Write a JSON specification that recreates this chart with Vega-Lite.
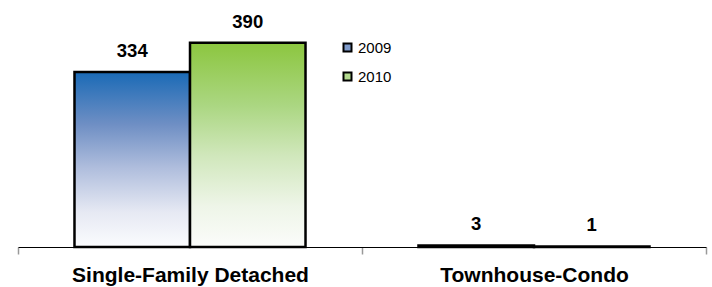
{
  "$schema": "https://vega.github.io/schema/vega-lite/v6.json",
  "width": 688,
  "height": 231,
  "autosize": {"type": "none"},
  "padding": {"left": 18, "top": 16, "right": 6, "bottom": 40},
  "background": "white",
  "config": {"view": {"stroke": null}, "font": "Liberation Sans"},
  "data": {
    "values": [
      {"type": "Single-Family Detached", "year": "2009", "value": 334},
      {"type": "Single-Family Detached", "year": "2010", "value": 390},
      {"type": "Townhouse-Condo", "year": "2009", "value": 3},
      {"type": "Townhouse-Condo", "year": "2010", "value": 1}
    ]
  },
  "encoding": {
    "x": {
      "field": "type", "type": "nominal", "sort": null,
      "scale": {"paddingInner": 0, "paddingOuter": 0},
      "axis": {
        "title": null, "labelAngle": 0, "labelFont": "Liberation Sans", "labelFontSize": 21,
        "labelFontWeight": "bold", "labelColor": "black", "labelLimit": 0, "domainColor": "black", "domainWidth": 1,
        "tickColor": "#999999", "tickSize": 7, "tickWidth": 1.5, "tickBand": "extent",
        "labelBaseline": "alphabetic", "labelPadding": 27
      }
    },
    "xOffset": {"field": "year", "type": "nominal", "scale": {"domain": ["2009", "2010"], "paddingInner": 0, "paddingOuter": 0.489}},
    "y": {"field": "value", "type": "quantitative", "scale": {"domain": [0, 441]}, "axis": null},
    "color": {
      "field": "year", "type": "nominal",
      "scale": {"domain": ["2009", "2010"], "range": ["#7f9bcb", "#b3da8e"]},
      "legend": {
        "title": null, "orient": "none", "legendX": 322, "legendY": 24,
        "symbolType": "square", "symbolSize": 64, "symbolStrokeColor": "black",
        "symbolStrokeWidth": 2, "symbolOpacity": 1, "labelFontSize": 15, "labelFont": "Liberation Sans",
        "labelColor": "black", "labelOffset": 3, "rowPadding": 12
      }
    }
  },
  "layer": [
    {
      "transform": [{"filter": "datum.year == '2009'"}],
      "mark": {"type": "bar", "stroke": "black", "strokeWidth": 2.5, "opacity": 1,
        "fill": {"gradient": "linear", "x1": 0, "y1": 0, "x2": 0, "y2": 1, "stops": [
          {"offset": 0, "color": "#1a6ab6"}, {"offset": 0.3, "color": "#6f8fc4"},
          {"offset": 0.55, "color": "#b0bedd"}, {"offset": 0.8, "color": "#e6e9f3"},
          {"offset": 1, "color": "#fbfcfe"}]}}
    },
    {
      "transform": [{"filter": "datum.year == '2010'"}],
      "mark": {"type": "bar", "stroke": "black", "strokeWidth": 2.5, "opacity": 1,
        "fill": {"gradient": "linear", "x1": 0, "y1": 0, "x2": 0, "y2": 1, "stops": [
          {"offset": 0, "color": "#8cc63f"}, {"offset": 0.3, "color": "#aad680"},
          {"offset": 0.55, "color": "#d0e7bb"}, {"offset": 0.8, "color": "#eef5e8"},
          {"offset": 1, "color": "#fbfcfa"}]}}
    },
    {
      "mark": {"type": "text", "baseline": "alphabetic", "dy": -15, "fontSize": 18.5, "fontWeight": "bold", "fill": "black"},
      "encoding": {"text": {"field": "value"}, "color": {"value": "black"}}
    }
  ]
}
